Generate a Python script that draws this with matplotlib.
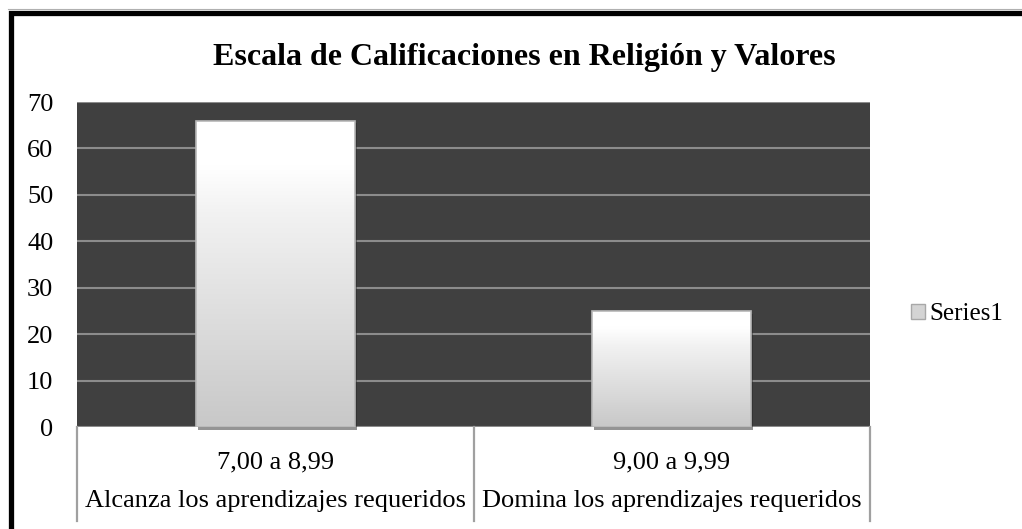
import numpy as np
import matplotlib
matplotlib.use("Agg")
import matplotlib.pyplot as plt
from matplotlib.lines import Line2D
from matplotlib.patches import Patch
from matplotlib.colors import LinearSegmentedColormap

# ---- data ----
title = "Escala de Calificaciones en Religión y Valores"
ranges = ["7,00 a 8,99", "9,00 a 9,99"]
descriptions = ["Alcanza los aprendizajes requeridos", "Domina los aprendizajes requeridos"]
values = [66, 25]
series_name = "Series1"
y_ticks = [0, 10, 20, 30, 40, 50, 60, 70]

plt.rcParams['font.family'] = ['Liberation Serif', 'DejaVu Serif']

W, H = 1022, 529
fig = plt.figure(figsize=(W / 100, H / 100), dpi=100)
fig.patch.set_facecolor('white')

# plot area in pixels
left_px, right_px, top_px, bot_px = 77, 870, 102, 427
ax = fig.add_axes([left_px / W, 1 - bot_px / H, (right_px - left_px) / W, (bot_px - top_px) / H])
ax.set_facecolor('#404040')

x = np.arange(len(values))
bars = ax.bar(x, values, width=0.4, color='none', edgecolor='none', zorder=3)

# gradient fill for bars
grad = np.linspace(0, 1, 256).reshape(-1, 1)
cmap = LinearSegmentedColormap.from_list('g', [(0, '#c8c8c8'), (0.7, '#f2f2f2'), (0.85, '#ffffff'), (1.0, '#ffffff')])
for b in bars:
    x0, y0 = b.get_x(), b.get_y()
    w, h = b.get_width(), b.get_height()
    ax.add_patch(plt.Rectangle((x0 + 0.005, y0 - 0.6), w, h, facecolor='#2a2a2a', alpha=0.5,
                               edgecolor='none', zorder=2.5, clip_on=False))
    im = ax.imshow(grad, extent=(x0, x0 + w, y0, y0 + h), origin='lower', cmap=cmap,
                   aspect='auto', zorder=3, interpolation='bicubic')
    im.set_clip_path(b)
    ax.add_patch(plt.Rectangle((x0, y0), w, h, facecolor='none', edgecolor='#b8b8b8',
                               lw=1.2, zorder=4))
ax.set_xlim(-0.5, len(values) - 0.5)
ax.set_ylim(0, 70)

# gridlines
ax.set_yticks(y_ticks)
ax.yaxis.grid(True, color='#8c8c8c', lw=1.5, zorder=1)
ax.set_axisbelow(True)
for s in ax.spines.values():
    s.set_visible(False)
ax.tick_params(axis='y', length=0, pad=17, labelsize=19)
ax.set_xticks([])

# category table below axis
trans = ax.get_xaxis_transform()
depth = -(521 - bot_px) / (bot_px - top_px)
for xb in np.arange(len(values) + 1) - 0.5:
    ax.add_line(Line2D([xb, xb], [0, depth], transform=trans, color='#a0a0a0', lw=1.6,
                       clip_on=False))
row1 = -(462 - bot_px) / (bot_px - top_px)
row2 = -(501 - bot_px) / (bot_px - top_px)
for i in range(len(values)):
    ax.text(x[i], row1, ranges[i], transform=trans, ha='center', va='center', fontsize=19)
    ax.text(x[i], row2, descriptions[i], transform=trans, ha='center', va='center', fontsize=19)

# title
fig.text(524 / W, 1 - 57 / H, title, ha='center', va='center',
         fontsize=23, fontweight='bold')

# legend
handle = Patch(facecolor='#d4d4d4', edgecolor='#a8a8a8', label=series_name)
fig.legend(handles=[handle], loc='center left', bbox_to_anchor=(911 / W, 1 - 314 / H),
           frameon=False, fontsize=18, handlelength=0.55, handleheight=0.55, handletextpad=0.2,
           borderaxespad=0, borderpad=0)

# outer border (black frame, open at right and bottom)
bx = 10.5 / W
by = 1 - 12.5 / H
fig.add_artist(Line2D([bx, bx, 1.01], [-0.01, by, by], transform=fig.transFigure,
                      color='black', lw=3.8, solid_joinstyle='miter'))
fig.add_artist(Line2D([bx - 3 / W, 1.01], [by + 3.5 / H, by + 3.5 / H], transform=fig.transFigure,
                      color='#b0b0b0', lw=0.8))

fig.savefig('out.png', dpi=100, facecolor='white')
